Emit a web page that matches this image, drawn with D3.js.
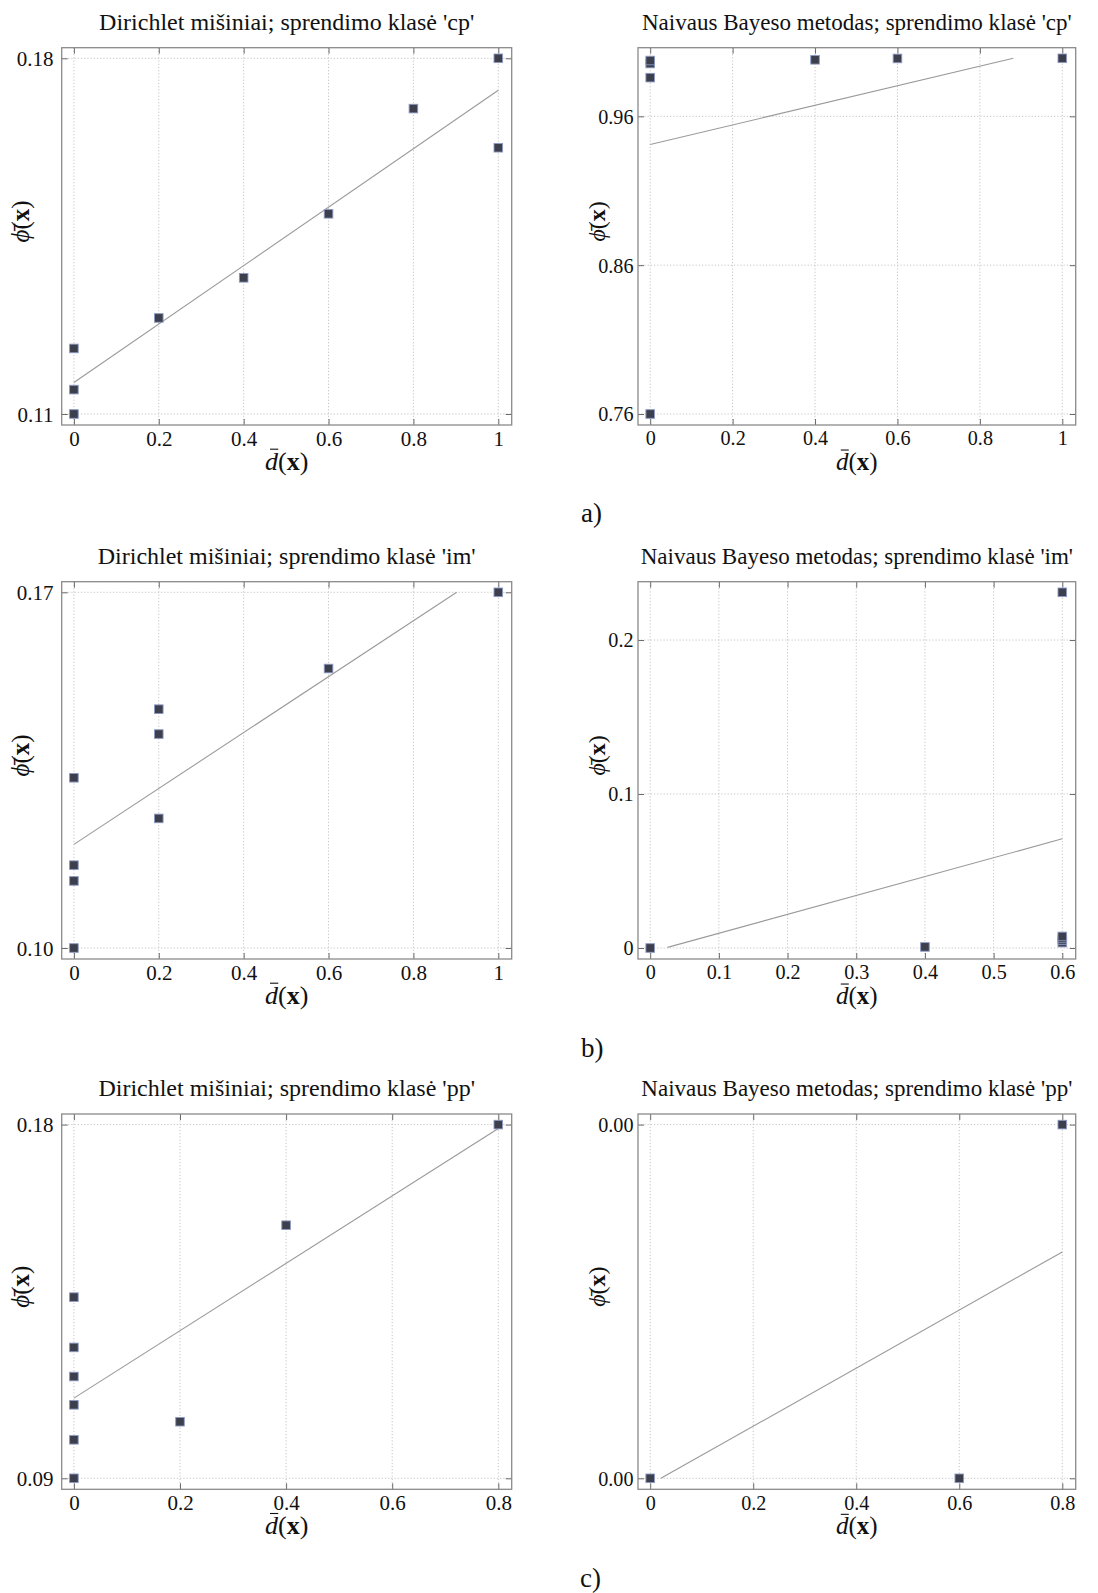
<!DOCTYPE html>
<html>
<head>
<meta charset="utf-8">
<script src="https://cdn.jsdelivr.net/npm/d3@7"></script>
<style>
  html, body { margin: 0; padding: 0; background: #fff; }
  svg { display: block; }
  text { font-family: "Liberation Serif", "Times New Roman", serif; fill: #111; }
</style>
</head>
<body>
<svg id="fig" width="1098" height="1593"></svg>
<script>
// ---- x-axis ticks -------------------------------------------------------
const xTicksUnit = [0, 0.2, 0.4, 0.6, 0.8, 1];
const xLabelsUnit = ["0", "0.2", "0.4", "0.6", "0.8", "1"];
const xTicksSix = [0, 0.1, 0.2, 0.3, 0.4, 0.5, 0.6];
const xLabelsSix = ["0", "0.1", "0.2", "0.3", "0.4", "0.5", "0.6"];
const xTicksEight = [0, 0.2, 0.4, 0.6, 0.8];
const xLabelsEight = ["0", "0.2", "0.4", "0.6", "0.8"];

// ---- class 'cp' ---------------------------------------------------------
const cpDirX = [0, 0, 0, 0.2, 0.4, 0.6, 0.8, 1, 1];
const cpDirY = [0.1229, 0.1148, 0.110, 0.1289, 0.1368, 0.1494, 0.1701, 0.180, 0.1624];
const cpDirFitX = [0, 1];
const cpDirFitY = [0.1162, 0.1737];
const cpDirYTicks = [0.11, 0.18];
const cpDirYLabels = ["0.11", "0.18"];

const cpNbX = [0, 0, 0, 0, 0.4, 0.6, 1];
const cpNbY = [0.760, 0.986, 0.9955, 0.9975, 0.998, 0.9989, 0.999];
const cpNbFitX = [0, 0.881];
const cpNbFitY = [0.9411, 0.999];
const cpNbYTicks = [0.76, 0.86, 0.96];
const cpNbYLabels = ["0.76", "0.86", "0.96"];

// ---- class 'im' ---------------------------------------------------------
const imDirX = [0, 0, 0, 0, 0.2, 0.2, 0.2, 0.6, 1];
const imDirY = [0.100, 0.1132, 0.1163, 0.1335, 0.1255, 0.1421, 0.147, 0.155, 0.170];
const imDirFitX = [0, 0.902];
const imDirFitY = [0.1204, 0.170];
const imDirYTicks = [0.10, 0.17];
const imDirYLabels = ["0.10", "0.17"];

const imNbX = [0, 0.4, 0.6, 0.6, 0.6, 0.6, 0.6];
const imNbY = [0, 0.0007, 0.231, 0.0035, 0.0050, 0.0062, 0.0075];
const imNbFitX = [0.0252, 0.6];
const imNbFitY = [0.0004, 0.0709];
const imNbYTicks = [0, 0.1, 0.2];
const imNbYLabels = ["0", "0.1", "0.2"];

// ---- class 'pp' ---------------------------------------------------------
const ppDirX = [0, 0, 0, 0, 0, 0, 0.2, 0.4, 0.8];
const ppDirY = [0.090, 0.0998, 0.1087, 0.1159, 0.1233, 0.1361, 0.1044, 0.1544, 0.180];
const ppDirFitX = [0, 0.8];
const ppDirFitY = [0.1104, 0.179];
const ppDirYTicks = [0.09, 0.18];
const ppDirYLabels = ["0.09", "0.18"];

const ppNbX = [0, 0.6, 0.8];
const ppNbY = [0, 0, 0.004];
const ppNbFitX = [0.0207, 0.8];
const ppNbFitY = [0, 0.00256];
const ppNbYTicks = [0, 0.004];
const ppNbYLabels = ["0.00", "0.00"];

// ---- titles and sub-figure labels ---------------------------------------
const titles = [
  "Dirichlet mišiniai; sprendimo klasė 'cp'",
  "Naivaus Bayeso metodas; sprendimo klasė 'cp'",
  "Dirichlet mišiniai; sprendimo klasė 'im'",
  "Naivaus Bayeso metodas; sprendimo klasė 'im'",
  "Dirichlet mišiniai; sprendimo klasė 'pp'",
  "Naivaus Bayeso metodas; sprendimo klasė 'pp'"
];
const subLabels = ["a)", "b)", "c)"];

// ---- layout --------------------------------------------------------------
// the right-hand column is drawn slightly smaller, so its type is scaled too
const colFrames = [
  { x0: 61.7, x1: 511.7, gap: 8.2, k: 1 },
  { x0: 638, x1: 1075.7, gap: 4.5, k: 0.96 }
];
const rowFrames = [{ y0: 47.7, y1: 425 }, { y0: 581.7, y1: 959 }, { y0: 1114, y1: 1489.3 }];
const subLabelPos = [{ x: 581, y: 522 }, { x: 581, y: 1057 }, { x: 580, y: 1587 }];

const panels = [
  { row: 0, col: 0, xs: cpDirX, ys: cpDirY, fx: cpDirFitX, fy: cpDirFitY, xt: xTicksUnit, xl: xLabelsUnit, yt: cpDirYTicks, yl: cpDirYLabels },
  { row: 0, col: 1, xs: cpNbX, ys: cpNbY, fx: cpNbFitX, fy: cpNbFitY, xt: xTicksUnit, xl: xLabelsUnit, yt: cpNbYTicks, yl: cpNbYLabels },
  { row: 1, col: 0, xs: imDirX, ys: imDirY, fx: imDirFitX, fy: imDirFitY, xt: xTicksUnit, xl: xLabelsUnit, yt: imDirYTicks, yl: imDirYLabels },
  { row: 1, col: 1, xs: imNbX, ys: imNbY, fx: imNbFitX, fy: imNbFitY, xt: xTicksSix, xl: xLabelsSix, yt: imNbYTicks, yl: imNbYLabels },
  { row: 2, col: 0, xs: ppDirX, ys: ppDirY, fx: ppDirFitX, fy: ppDirFitY, xt: xTicksEight, xl: xLabelsEight, yt: ppDirYTicks, yl: ppDirYLabels },
  { row: 2, col: 1, xs: ppNbX, ys: ppNbY, fx: ppNbFitX, fy: ppNbFitY, xt: xTicksEight, xl: xLabelsEight, yt: ppNbYTicks, yl: ppNbYLabels }
];

const svg = d3.select("#fig");
const FRAME = "#8a8a8a", GRID = "#c4c4c4", TICK = "#6a6a6a";
const MARK_FILL = "#3d404c", MARK_EDGE = "#8d9ac4", FIT = "#9a9a9a";

panels.forEach((p, i) => {
  const c = colFrames[p.col], r = rowFrames[p.row];
  const g = svg.append("g");

  const x = d3.scaleLinear()
    .domain([0, d3.max(p.xs)])
    .range([c.x0 + 12.2, c.x1 - 13.4]);
  const y = d3.scaleLinear()
    .domain(d3.extent(p.ys))
    .range([r.y1 - 11, r.y0 + 10.6]);

  // dotted grid at tick positions
  g.append("g").selectAll("line").data(p.xt).join("line")
    .attr("x1", d => x(d)).attr("x2", d => x(d))
    .attr("y1", r.y0).attr("y2", r.y1)
    .attr("stroke", GRID).attr("stroke-width", 1).attr("stroke-dasharray", "1.2,2");
  g.append("g").selectAll("line").data(p.yt).join("line")
    .attr("x1", c.x0).attr("x2", c.x1)
    .attr("y1", d => y(d)).attr("y2", d => y(d))
    .attr("stroke", GRID).attr("stroke-width", 1).attr("stroke-dasharray", "1.2,2");

  // frame axes: ticks point inward on all four sides
  const fmtX = (d) => p.xl[p.xt.indexOf(d)];
  const fmtY = (d) => p.yl[p.yt.indexOf(d)];

  const bottom = g.append("g").attr("transform", `translate(0,${r.y1})`)
    .call(d3.axisBottom(x).tickValues(p.xt).tickFormat(fmtX).tickSize(-6).tickPadding(6));
  const top = g.append("g").attr("transform", `translate(0,${r.y0})`)
    .call(d3.axisTop(x).tickValues(p.xt).tickFormat("").tickSize(-6));
  const left = g.append("g").attr("transform", `translate(${c.x0},0)`)
    .call(d3.axisLeft(y).tickValues(p.yt).tickFormat(fmtY).tickSize(-6).tickPadding(c.gap));
  const right = g.append("g").attr("transform", `translate(${c.x1},0)`)
    .call(d3.axisRight(y).tickValues(p.yt).tickFormat("").tickSize(-6));

  [bottom, top, left, right].forEach(a => {
    a.select(".domain").remove();
    a.selectAll(".tick line").attr("stroke", TICK).attr("stroke-width", 1);
    a.attr("font-family", null).attr("font-size", null);
  });
  bottom.selectAll(".tick text").attr("font-size", 21 * c.k).attr("dy", "0.71em").attr("fill", "#111");
  left.selectAll(".tick text").attr("font-size", 21 * c.k).attr("dy", "0.34em").attr("fill", "#111");

  // frame
  g.append("rect")
    .attr("x", c.x0).attr("y", r.y0)
    .attr("width", c.x1 - c.x0).attr("height", r.y1 - r.y0)
    .attr("fill", "none").attr("stroke", FRAME).attr("stroke-width", 1.3);

  // least-squares trend line
  const fitPts = p.fx.map((v, k) => [v, p.fy[k]]);
  g.append("path")
    .attr("d", d3.line().x(d => x(d[0])).y(d => y(d[1]))(fitPts))
    .attr("fill", "none").attr("stroke", FIT).attr("stroke-width", 1.1);

  // square markers
  const pts = p.xs.map((v, k) => [v, p.ys[k]]);
  g.append("g").selectAll("rect").data(pts).join("rect")
    .attr("x", d => x(d[0]) - 4.3).attr("y", d => y(d[1]) - 4.3)
    .attr("width", 8.6).attr("height", 8.6)
    .attr("fill", MARK_FILL).attr("stroke", MARK_EDGE).attr("stroke-width", 0.9);

  // title
  const cx = (c.x0 + c.x1) / 2;
  g.append("text")
    .attr("x", cx).attr("y", r.y0 - 18)
    .attr("text-anchor", "middle").attr("font-size", 24 * c.k)
    .text(titles[i]);

  // x-axis label  d̄(x): the bar over the italic d is drawn as a short rule
  const fsX = 26 * c.k;
  const baseX = r.y1 + 45;
  const xl = g.append("text")
    .attr("x", cx).attr("y", baseX)
    .attr("text-anchor", "middle").attr("font-size", fsX);
  xl.append("tspan").attr("font-style", "italic").text("d");
  xl.append("tspan").text("(");
  xl.append("tspan").attr("font-weight", "bold").text("x");
  xl.append("tspan").text(")");
  const dBox = xl.node().getExtentOfChar(0);
  g.append("line")
    .attr("x1", dBox.x + dBox.width * 0.38).attr("x2", dBox.x + dBox.width * 1.02)
    .attr("y1", baseX - fsX * 0.80).attr("y2", baseX - fsX * 0.80)
    .attr("stroke", "#111").attr("stroke-width", 1.1);

  // y-axis label  ϕ̄(x)
  const ly = (r.y0 + r.y1) / 2 - 15;
  const lx = c.x0 - 33;
  const yl = g.append("text")
    .attr("transform", `translate(${lx},${ly}) rotate(-90)`)
    .attr("text-anchor", "middle").attr("font-size", 25 * c.k);
  yl.append("tspan").attr("font-style", "italic").text("\u03D5\u0304");
  yl.append("tspan").text("(");
  yl.append("tspan").attr("font-weight", "bold").text("x");
  yl.append("tspan").text(")");
});

// sub-figure labels
svg.selectAll("text.sub").data(subLabels).join("text")
  .attr("class", "sub")
  .attr("x", (d, k) => subLabelPos[k].x)
  .attr("y", (d, k) => subLabelPos[k].y)
  .attr("font-size", 27)
  .text(d => d);
</script>
</body>
</html>
